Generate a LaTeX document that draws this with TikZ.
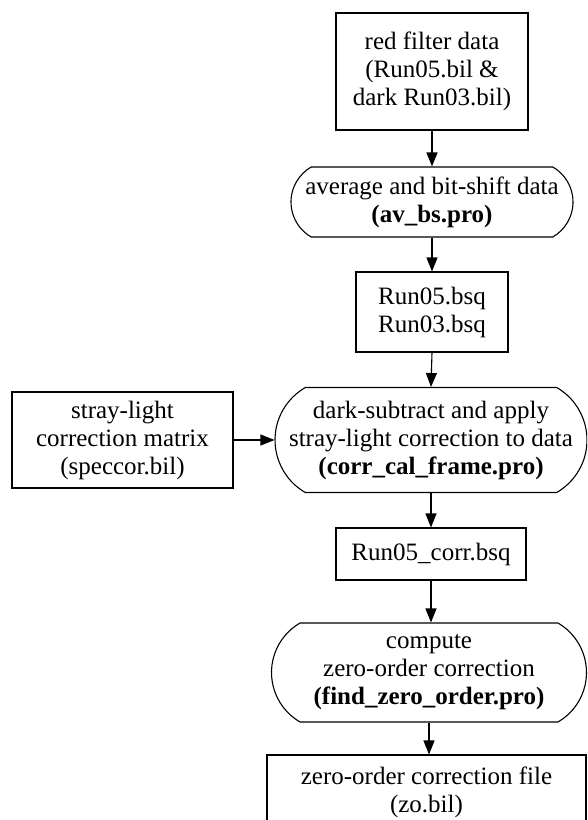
\documentclass[tikz,border=0pt]{standalone}
\usepackage{fontspec}
\setmainfont{Liberation Serif}
\usetikzlibrary{arrows.meta,shapes.misc}
\begin{document}
\begin{tikzpicture}[x=1pt,y=-1pt,
  every node/.style={font=\fontsize{25}{28}\selectfont, align=center, inner sep=0pt, line width=1.1pt},
  stepbox/.style n args={2}{draw, rectangle, minimum width=#1, minimum height=#2},
  termbox/.style n args={2}{draw, rounded rectangle, rounded rectangle arc length=120, minimum width=#1, minimum height=#2},
  arr/.style={-{Triangle[length=14pt,width=11pt]}, line width=1.1pt}]
\useasboundingbox (0,0) rectangle (587,820);
\clip (0,0) rectangle (587,820);

\node[stepbox={192pt}{117pt}] (b1) at (432,71.5) {red filter data\\(Run05.bil \&\\dark Run03.bil)};
\node[termbox={282pt}{70pt}] (o1) at (432,202) {};
\node (o1t) at (o1) {average and bit-shift data\\\textbf{(av\_bs.pro)}};
\node[stepbox={152pt}{80pt}] (b2) at (432,312) {Run05.bsq\\Run03.bsq};
\node[termbox={312pt}{105pt}] (o2) at (431,440) {};
\node (o2t) at (o2) {dark-subtract and apply\\stray-light correction to data\\\textbf{(corr\_cal\_frame.pro)}};
\node[stepbox={221pt}{96pt}] (b3) at (122.5,440) {stray-light\\correction matrix\\(speccor.bil)};
\node[stepbox={190pt}{52pt}] (b4) at (431,554) {Run05\_corr.bsq};
\node[termbox={315pt}{99pt}] (o3) at (429,672.5) {};
\node (o3t) at (o3) {compute\\zero-order correction\\\textbf{(find\_zero\_order.pro)}};
\node[stepbox={319pt}{74pt}] (b5) at (426.5,792) {zero-order correction file\\(zo.bil)};

\draw[arr] (b1.south) -- (o1.north);
\draw[arr] (o1.south) -- (b2.north);
\draw[arr] (b2.south) -- (o2.north);
\draw[arr] (b3.east) -- (o2.west);
\draw[arr] (o2.south) -- (o2.south |- b4.north);
\draw[arr] (b4.south) -- (b4.south |- o3.north);
\draw[arr] (o3.south) -- (o3.south |- b5.north);
\end{tikzpicture}
\end{document}
